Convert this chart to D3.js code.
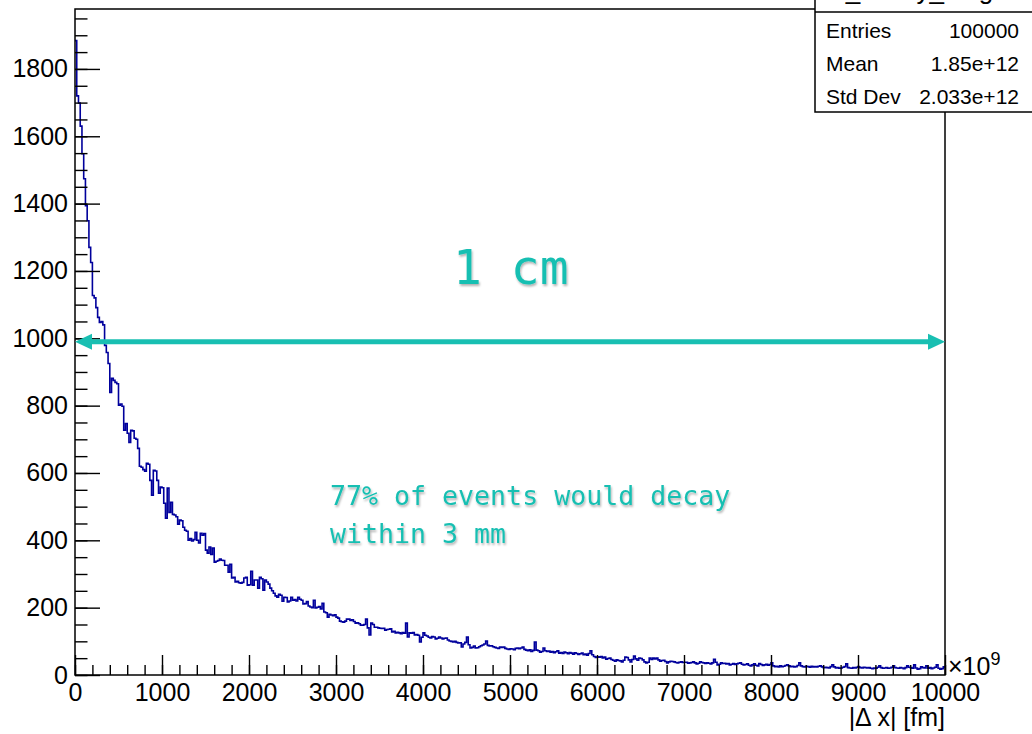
<!DOCTYPE html>
<html>
<head>
<meta charset="utf-8">
<script src="https://cdn.jsdelivr.net/npm/d3@7"></script>
<style>
  html, body { margin: 0; padding: 0; background: #fff; }
  svg { display: block; }
</style>
</head>
<body>
<svg id="chart" width="1032" height="734"></svg>
<script>
// ---- data ----
const xLimits = [0, 10000];          // in units of 1e9 fm
const binCounts = [
  1884,1720,1699,1630,1548,1474,1394,1349,1270,1225,
  1127,1120,1091,1062,1047,1050,1040,979,958,925,
  839,881,875,869,865,801,805,798,727,747,
  718,691,727,725,703,700,673,620,617,610,
  605,629,626,578,534,608,606,578,540,558,
  556,510,466,555,483,513,477,475,470,448,
  460,458,439,430,427,400,405,398,402,424,
  400,392,421,415,420,371,362,380,358,377,
  335,338,340,344,341,340,326,326,305,329,
  288,290,276,278,274,273,275,288,290,267,
  268,308,267,282,282,258,290,286,252,282,
  276,270,258,250,243,235,231,240,237,219,
  231,230,217,220,231,222,224,220,231,225,
  222,211,212,218,205,202,200,222,199,201,
  203,196,213,187,185,172,180,178,176,179,
  172,169,160,158,157,160,166,166,162,164,
  159,154,155,152,148,148,150,166,140,119,
  154,150,142,142,140,139,138,139,133,135,
  136,137,128,130,125,127,125,123,126,124,
  154,113,125,124,126,119,120,118,98,112,
  125,118,116,112,110,114,113,107,109,113,
  110,107,109,110,104,101,100,98,100,97,
  95,96,83,92,97,113,90,80,82,86,
  80,81,84,87,89,92,101,88,86,87,
  84,82,80,79,83,82,83,79,77,76,
  78,77,75,79,80,78,80,83,76,74,
  72,75,70,73,98,74,72,68,70,80,
  72,70,71,68,70,66,69,72,65,67,
  64,68,66,63,67,65,62,66,64,61,
  63,65,60,62,59,64,72,60,55,52,
  54,53,55,51,53,47,49,50,46,44,
  41,45,43,42,39,44,53,52,45,39,
  46,56,48,44,50,49,45,39,36,38,
  50,46,50,48,50,45,41,43,44,40,
  36,39,41,40,39,37,36,38,39,37,
  38,38,35,36,37,39,36,33,35,39,
  37,36,34,36,35,33,36,47,38,30,
  32,36,34,35,33,34,30,32,34,31,
  33,35,36,32,30,31,33,29,27,30,
  33,29,27,34,31,28,30,32,29,31,
  36,27,25,26,24,27,25,26,28,30,
  27,25,26,24,25,28,36,27,25,24,
  26,25,23,26,24,25,24,26,27,24,
  22,23,22,21,25,30,24,21,22,20,
  21,23,25,33,22,21,20,22,21,23,
  24,22,21,23,22,21,22,20,19,21,
  20,23,27,22,20,21,22,20,21,23,
  27,22,21,20,22,21,19,22,27,23,
  22,20,30,21,17,19,24,22,21,27,
  20,22,19,21,23,30,20,17,19,24
];
const yMaxValue = 1978;
const xMajorTicks = [0,1000,2000,3000,4000,5000,6000,7000,8000,9000,10000];
const xMinorTicks = d3.range(0, 10001, 200);
const yMajorTicks = [0,200,400,600,800,1000,1200,1400,1600,1800];
const yMinorTicks = d3.range(0, 1978, 50);
const statsName = "h_decay_length";
const statsLabels = ["Entries", "Mean", "Std Dev"];
const statsValues = ["100000", "1.85e+12", "2.033e+12"];
const xTitle = "|\u0394 x| [fm]";
const arrowLevel = 990;
const arrowText = "1 cm";
const noteLines = ["77% of events would decay", "within 3 mm"];

// ---- layout ----
const frame = { left: 75, right: 945, top: 9, bottom: 675 };
const svg = d3.select("#chart");
const teal = "#19bfb2";
const histColor = "#00009c";

const x = d3.scaleLinear().domain(xLimits).range([frame.left, frame.right]);
const y = d3.scaleLinear().domain([0, yMaxValue]).range([frame.bottom, frame.top]);

svg.append("rect").attr("width", 1032).attr("height", 734).attr("fill", "#fff");

const defs = svg.append("defs");
const f = defs.append("filter").attr("id", "shadow").attr("x", "-10%").attr("y", "-30%").attr("width", "130%").attr("height", "160%");
f.append("feDropShadow").attr("dx", 1).attr("dy", 2).attr("stdDeviation", 1.3)
  .attr("flood-color", "#000").attr("flood-opacity", 0.3);

// ---- histogram ----
const binW = (xLimits[1] - xLimits[0]) / binCounts.length;
const pts = binCounts.map((v, i) => [xLimits[0] + i * binW, v]);
pts.push([xLimits[1], binCounts[binCounts.length - 1]]);
const line = d3.line().x(d => x(d[0])).y(d => y(d[1])).curve(d3.curveStepAfter);
svg.append("path").attr("d", line(pts)).attr("fill", "none")
  .attr("stroke", histColor).attr("stroke-width", 1.6).attr("stroke-linejoin", "miter");

// ---- axes ----
const axisFont = "'Liberation Sans', Arial, Helvetica, sans-serif";
function styleAxis(g) {
  g.select(".domain").remove();
  g.selectAll(".tick line").attr("stroke", "#000").attr("stroke-width", 1.4);
  g.selectAll("text").attr("font-family", axisFont).attr("font-size", 25).attr("fill", "#000");
}
svg.append("g").attr("transform", `translate(${frame.left},0)`)
  .call(d3.axisLeft(y).tickValues(yMinorTicks).tickSize(-12.5).tickFormat(""))
  .call(styleAxis);
svg.append("g").attr("transform", `translate(${frame.left},0)`)
  .call(d3.axisLeft(y).tickValues(yMajorTicks).tickSize(-25).tickPadding(7).tickFormat(d3.format("d")))
  .call(styleAxis);
svg.append("g").attr("transform", `translate(0,${frame.bottom})`)
  .call(d3.axisBottom(x).tickValues(xMinorTicks).tickSize(-10).tickFormat(""))
  .call(styleAxis);
svg.append("g").attr("transform", `translate(0,${frame.bottom})`)
  .call(d3.axisBottom(x).tickValues(xMajorTicks).tickSize(-20).tickPadding(8).tickFormat(d3.format("d")))
  .call(styleAxis);

// frame
svg.append("rect").attr("x", frame.left).attr("y", frame.top)
  .attr("width", frame.right - frame.left).attr("height", frame.bottom - frame.top)
  .attr("fill", "none").attr("stroke", "#000").attr("stroke-width", 1.5);

// x10^9 and axis title
const exp = svg.append("text").attr("x", frame.right + 3).attr("y", frame.bottom)
  .attr("font-family", axisFont).attr("font-size", 25).attr("fill", "#000");
exp.append("tspan").text("\u00d710");
exp.append("tspan").attr("dy", -10).attr("font-size", 18).text("9");

svg.append("text").attr("x", frame.right).attr("y", 726).attr("text-anchor", "end")
  .attr("font-family", axisFont).attr("font-size", 25).attr("fill", "#000").text(xTitle);

// ---- stats box ----
const sb = { x: 815, y: -60, w: 240, bottom: 112 };
svg.append("rect").attr("x", sb.x).attr("y", sb.y).attr("width", sb.w).attr("height", sb.bottom - sb.y)
  .attr("fill", "#fff").attr("stroke", "#000").attr("stroke-width", 1.5);
svg.append("line").attr("x1", sb.x).attr("x2", 1040).attr("y1", 12).attr("y2", 12)
  .attr("stroke", "#000").attr("stroke-width", 1.3);
svg.append("text").attr("x", 923).attr("y", -1).attr("text-anchor", "middle")
  .attr("font-family", axisFont).attr("font-size", 26).attr("fill", "#000").text(statsName);
statsLabels.forEach((lab, i) => {
  const by = 38 + i * 33;
  svg.append("text").attr("x", 826).attr("y", by).attr("font-family", axisFont)
    .attr("font-size", 21).attr("fill", "#000").text(lab);
  svg.append("text").attr("x", 1019).attr("y", by).attr("text-anchor", "end")
    .attr("font-family", axisFont).attr("font-size", 21).attr("fill", "#000").text(statsValues[i]);
});

// ---- annotations ----
const ay = y(arrowLevel);
const ax1 = x(xLimits[0]), ax2 = x(xLimits[1]);
const headL = 17, headW = 8;
const ann = svg.append("g");
ann.append("line").attr("x1", ax1 + headL - 2).attr("x2", ax2 - headL + 2).attr("y1", ay).attr("y2", ay)
  .attr("stroke", teal).attr("stroke-width", 5);
ann.append("polygon").attr("points", `${ax1},${ay} ${ax1 + headL},${ay - headW} ${ax1 + headL},${ay + headW}`).attr("fill", teal);
ann.append("polygon").attr("points", `${ax2},${ay} ${ax2 - headL},${ay - headW} ${ax2 - headL},${ay + headW}`).attr("fill", teal);

const mono = "'DejaVu Sans Mono', 'Liberation Mono', monospace";
svg.append("text").attr("x", 453).attr("y", 284).attr("font-family", mono).attr("font-size", 48)
  .attr("fill", teal).attr("filter", "url(#shadow)").attr("xml:space", "preserve").text(arrowText);
noteLines.forEach((t, i) => {
  svg.append("text").attr("x", 330).attr("y", 505 + i * 38).attr("font-family", mono).attr("font-size", 26.6)
    .attr("fill", teal).attr("filter", "url(#shadow)").attr("xml:space", "preserve").text(t);
});
</script>
</body>
</html>
